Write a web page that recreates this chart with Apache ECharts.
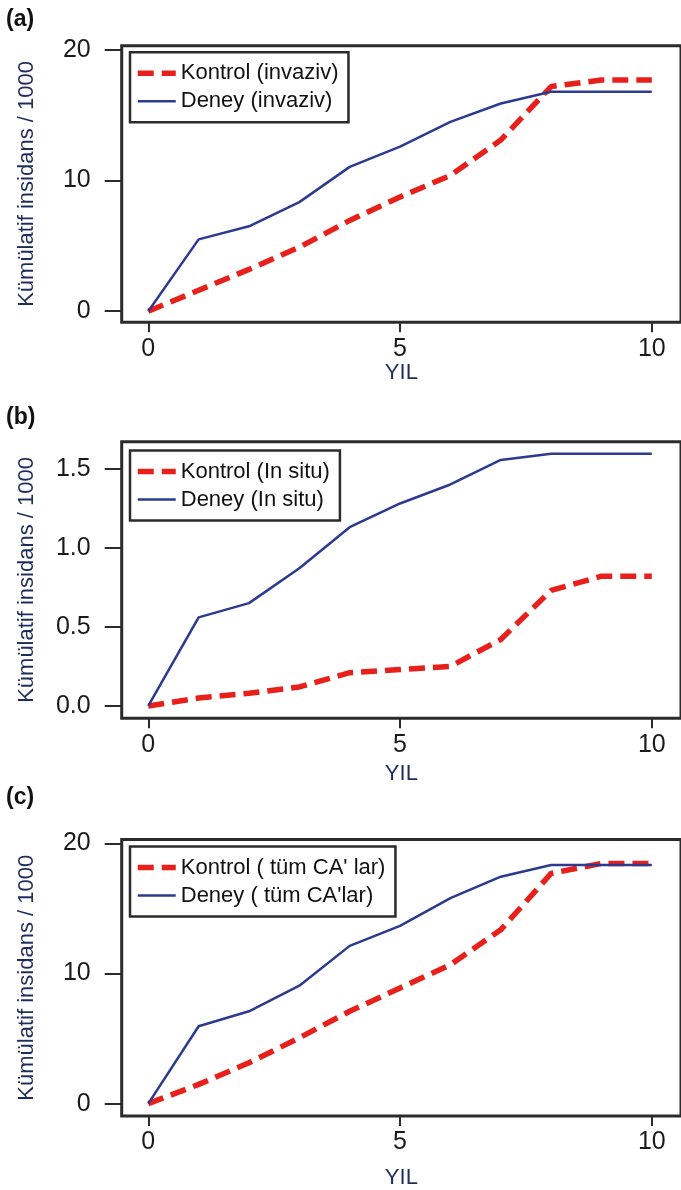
<!DOCTYPE html>
<html>
<head>
<meta charset="utf-8">
<script src="https://cdn.jsdelivr.net/npm/echarts@6/dist/echarts.min.js"></script>
<style>
  html, body { margin: 0; padding: 0; background: #fff; }
  #chart { width: 681px; height: 1190px; }
</style>
</head>
<body>
<div id="chart"></div>
<script>
// yıllar
const years = [0, 1, 2, 3, 4, 5, 6, 7, 8, 9, 10];

// (a) invaziv
const aKontrol = [0, 1.6, 3.2, 4.9, 6.95, 8.75, 10.4, 13.1, 17.2, 17.7, 17.7];
const aDeney = [0, 5.5, 6.5, 8.35, 11.05, 12.6, 14.5, 15.9, 16.8, 16.8, 16.8];
// (b) in situ
const bKontrol = [0, 0.05, 0.08, 0.12, 0.21, 0.23, 0.25, 0.42, 0.73, 0.82, 0.82];
const bDeney = [0, 0.56, 0.65, 0.87, 1.13, 1.28, 1.40, 1.555, 1.595, 1.595, 1.595];
// (c) tüm CA'lar
const cKontrol = [0, 1.48, 3.14, 5.06, 7.1, 8.89, 10.68, 13.36, 17.7, 18.47, 18.47];
const cDeney = [0, 5.95, 7.1, 9.07, 12.13, 13.67, 15.8, 17.45, 18.34, 18.34, 18.34];

const xTicks = [0, 5, 10];
const aTicks = [0, 10, 20];
const bTicks = [0, 0.5, 1.0, 1.5];
const cTicks = [0, 10, 20];

const panelLabels = ["(a)", "(b)", "(c)"];
const kontrolNames = ["Kontrol (invaziv)", "Kontrol (In situ)", "Kontrol ( tüm CA' lar)"];
const deneyNames = ["Deney (invaziv)", "Deney (In situ)", "Deney ( tüm CA'lar)"];
const yName = "Kümülatif insidans / 1000";
const xName = "YIL";

const FONT = "'Liberation Sans', Arial, sans-serif";
const RED = "#e8201c";
const BLUE = "#2c3a8f";
const AXIS = "#2b2b2b";
const NAME_COLOR = "#1f2d5c";

const kontrolData = [aKontrol, bKontrol, cKontrol];
const deneyData = [aDeney, bDeney, cDeney];
const yTicks = [aTicks, bTicks, cTicks];

// üç panelin yerleşimi
const gridTops = [45.7, 441.7, 839.5];
const gridHeight = 276.5;
const yRanges = [[-0.844, 20.33], [-0.0777, 1.6706], [-0.95, 20.307]];
const legendTops = [52.3, 450.5, 846.5];
const xNameGaps = [38, 45, 51];
const labelTops = [8, 406, 786];

const pairs = (ys) => years.map((x, i) => [x, ys[i]]);

const kontrolLine = { color: RED, width: 5.5, type: [16, 8] };
const deneyLine = { color: BLUE, width: 2.5, type: "solid" };
const hiddenSymbol = { color: "rgba(0,0,0,0)", borderColor: "rgba(0,0,0,0)", borderWidth: 0, opacity: 0 };

const grids = [], xAxes = [], yAxes = [], series = [], legends = [], graphics = [];

for (let i = 0; i < 3; i++) {
    grids.push({
        left: 121.7, top: gridTops[i], width: 568, height: gridHeight,
        show: true, borderColor: AXIS, borderWidth: 3, backgroundColor: "transparent"
    });
    xAxes.push({
        gridIndex: i, type: "value", min: -0.528, max: 10.58, position: "bottom",
        name: xName, nameLocation: "middle", nameGap: xNameGaps[i],
        nameTextStyle: { fontFamily: FONT, fontSize: 22, color: NAME_COLOR },
        axisLine: { show: false, onZero: false },
        axisTick: { show: true, inside: false, customValues: xTicks, length: 10, lineStyle: { color: AXIS, width: 2 } },
        axisLabel: { customValues: xTicks, margin: 14, fontFamily: FONT, fontSize: 25, color: "#1a1a1a" },
        splitLine: { show: false }
    });
    yAxes.push({
        gridIndex: i, type: "value", min: yRanges[i][0], max: yRanges[i][1], position: "left",
        name: yName, nameLocation: "middle", nameGap: 84, nameRotate: 90,
        nameTextStyle: { fontFamily: FONT, fontSize: 22, color: NAME_COLOR },
        axisLine: { show: false, onZero: false },
        axisTick: { show: true, inside: false, customValues: yTicks[i], length: 17, lineStyle: { color: AXIS, width: 2 } },
        axisLabel: {
            customValues: yTicks[i], margin: 31, fontFamily: FONT, fontSize: 25, color: "#1a1a1a",
            formatter: (v) => (i === 1 ? v.toFixed(1) : String(v))
        },
        splitLine: { show: false }
    });
    series.push({
        name: kontrolNames[i], type: "line", xAxisIndex: i, yAxisIndex: i,
        data: pairs(kontrolData[i]), symbol: "none", z: 3,
        lineStyle: kontrolLine, itemStyle: { color: RED }
    });
    series.push({
        name: deneyNames[i], type: "line", xAxisIndex: i, yAxisIndex: i,
        data: pairs(deneyData[i]), symbol: "none", z: 4,
        lineStyle: deneyLine, itemStyle: { color: BLUE }
    });
    legends.push({
        data: [
            { name: kontrolNames[i], lineStyle: kontrolLine, itemStyle: hiddenSymbol },
            { name: deneyNames[i], lineStyle: deneyLine, itemStyle: hiddenSymbol }
        ],
        orient: "vertical", left: 130, top: legendTops[i],
        backgroundColor: "#fff", borderColor: AXIS, borderWidth: 2.5,
        padding: [10, 10, 10, 5], itemGap: 6, itemWidth: 38, itemHeight: 14,
        itemStyle: hiddenSymbol,
        selectedMode: false,
        textStyle: { fontFamily: FONT, fontSize: 22, lineHeight: 22, color: "#111" }
    });
    graphics.push({
        type: "text", left: 6, top: labelTops[i],
        style: { text: panelLabels[i], font: "bold 23px " + FONT, fill: "#111" }
    });
}

const chart = echarts.init(document.getElementById("chart"), null, { renderer: "canvas" });
chart.setOption({
    animation: false,
    backgroundColor: "#fff",
    grid: grids,
    xAxis: xAxes,
    yAxis: yAxes,
    legend: legends,
    series: series,
    graphic: graphics
});
</script>
</body>
</html>
